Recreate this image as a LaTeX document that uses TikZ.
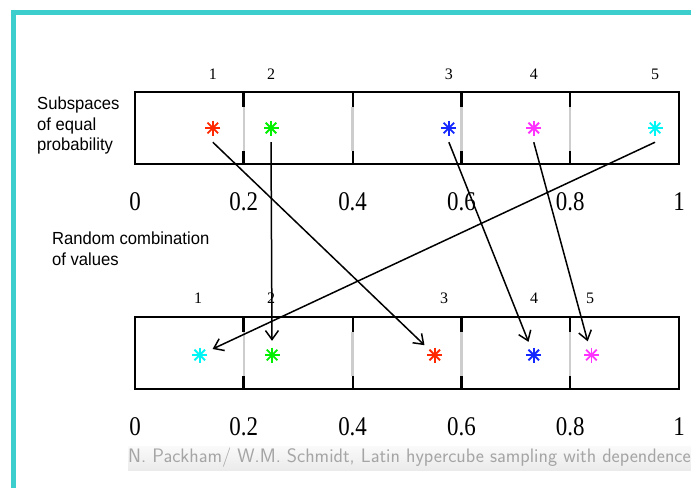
\documentclass[tikz,border=0pt]{standalone}
\usepackage{fontspec}
\newfontfamily\arialfont{Liberation Sans}
\newfontfamily\timesfont{Liberation Serif}
\usetikzlibrary{arrows.meta}

\definecolor{framecyan}{RGB}{60,205,205}
\definecolor{ptred}{RGB}{255,40,0}
\definecolor{ptgreen}{RGB}{0,240,0}
\definecolor{ptblue}{RGB}{20,40,255}
\definecolor{ptmagenta}{RGB}{255,50,255}
\definecolor{ptcyan}{RGB}{0,245,245}
\definecolor{sepgray}{RGB}{205,205,205}
\definecolor{footgray}{RGB}{165,165,165}

\begin{document}
\begin{tikzpicture}[x=1pt, y=-1pt,
    sample/.style={circle, minimum size=28pt, inner sep=0pt,
        path picture={
            \foreach \a in {0,45,90,135}
                \draw[#1, line width=1.8pt] (path picture bounding box.center) ++(\a:7.5pt) -- ++(\a+180:15pt);
        }},
    idx/.style={font=\timesfont\fontsize{16}{16}\selectfont},
    tick/.style={font=\timesfont\fontsize{27}{27}\selectfont, xscale=0.85},
    side/.style={font=\arialfont\fontsize{17.5}{20.5}\selectfont, align=left, anchor=north west, inner sep=0pt, xscale=0.95},
    swap/.style={line width=1.5pt, -{Straight Barb[length=9pt, width=13pt]}}]

    % Parameters
    \def\axl{135} % left end of the axis
    \def\axw{544} % length of the axis
    \def\boxh{72} % height of each box

    \useasboundingbox (0,0) rectangle (691,488);

    % Frame
    \fill[framecyan] (11,10) rectangle (691,15);
    \fill[framecyan] (11,10) rectangle (16,488);

    % Draw the two boxes with their ticks
    \foreach \top in {92,317} {
            \draw[line width=2.2pt] (\axl,\top) rectangle (\axl+\axw,\top+\boxh);
            \foreach \k/\w in {1/3, 2/2.2, 3/3, 4/2.2} {
                    \pgfmathsetmacro{\xd}{\axl+\k*\axw/5}
                    \draw[sepgray, line width=2.4pt] (\xd,\top+15) -- (\xd,\top+\boxh-13);
                    \draw[line width=\w pt] (\xd,\top) -- (\xd,\top+15) (\xd,\top+\boxh-13) -- (\xd,\top+\boxh);
                }
            \foreach \k/\lab in {0/0, 1/0.2, 2/0.4, 3/0.6, 4/0.8, 5/1}
                \node[tick] at (\axl+\k*\axw/5, \top+110) {\lab};
        }

    % Side labels
    \node[side] (subsp) at (37,97) {Subspaces\\of equal\\probability};
    \node[side] (randc) at (52,232) {Random combination\\of values};

    % Samples in the upper box
    \foreach \i/\u/\c in {1/0.143/ptred, 2/0.25/ptgreen, 3/0.577/ptblue, 4/0.733/ptmagenta, 5/0.956/ptcyan} {
            \pgfmathsetmacro{\xpos}{\axl+\u*\axw}
            \node[sample=\c] (t\i) at (\xpos,128) {};
            \node[idx] at (\xpos,74) {\i};
        }

    % Samples in the lower box
    \foreach \i/\u/\c/\l in {1/0.119/ptcyan/198, 2/0.252/ptgreen/271, 3/0.551/ptred/444, 4/0.733/ptblue/534, 5/0.839/ptmagenta/590} {
            \pgfmathsetmacro{\xpos}{\axl+\u*\axw}
            \node[sample=\c] (b\i) at (\xpos,355) {};
            \node[idx] at (\l,298) {\i};
        }

    % Add arrows for the combination
    \foreach \s/\t in {1/3, 2/2, 3/4, 4/5, 5/1}
        \draw[swap] (t\s.south) -- (b\t);

    % Footer
    \shade[top color=gray!4, bottom color=gray!16] (128,446) rectangle (691,470);
    \node[anchor=west, inner sep=0pt, text=footgray, font=\sffamily\fontsize{19.5}{19.5}\selectfont] (foot) at (128,458)
        {N. Packham/ W.M. Schmidt, Latin hypercube sampling with dependence};
\end{tikzpicture}
\end{document}
